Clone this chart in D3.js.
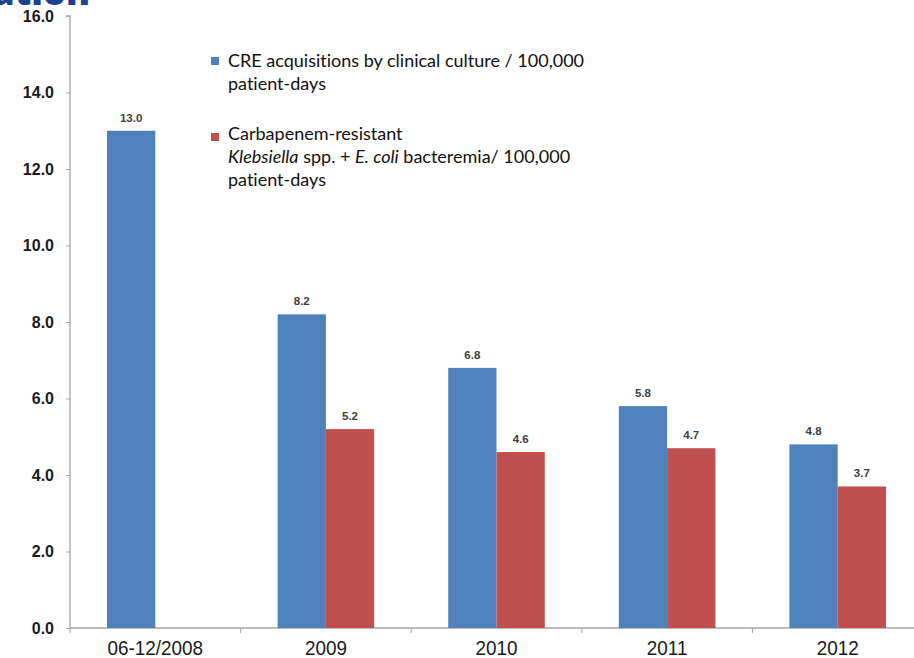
<!DOCTYPE html>
<html>
<head>
<meta charset="utf-8">
<script src="https://cdn.jsdelivr.net/npm/d3@7"></script>
<style>
  html, body { margin: 0; padding: 0; background: #fff; overflow: hidden; }
  svg { display: block; }
  .legend text { font-variant-ligatures: none; }
</style>
</head>
<body>
<svg id="chart" width="914" height="658"></svg>
<script>
// Rates per 100,000 patient-days
const categories = ["06-12/2008", "2009", "2010", "2011", "2012"];
const creAcquisitions = [13.0, 8.2, 6.8, 5.8, 4.8];
const crBacteremia = [null, 5.2, 4.6, 4.7, 3.7];
const yTicks = [0, 2, 4, 6, 8, 10, 12, 14, 16];
const colors = ["#4F81BD", "#C0504D"];

const svg = d3.select("#chart");

const plot = { left: 70, top: 16, bottom: 628, right: 923 };

const x = d3.scaleBand()
  .domain(categories)
  .range([plot.left, plot.right])
  .paddingInner(0)
  .paddingOuter(0);

const barW = x.bandwidth() * 0.283;

const y = d3.scaleLinear().domain([0, 16]).range([plot.bottom, plot.top]);

// slide title, running off the top edge
svg.append("text")
  .attr("x", 90).attr("y", 5)
  .attr("text-anchor", "end")
  .attr("font-family", "'Open Sans', 'DejaVu Sans', sans-serif")
  .attr("font-weight", 800)
  .attr("font-size", 36)
  .attr("fill", "#1f3f8f")
  .text("Evaluation");

// y axis
const yAxis = svg.append("g")
  .attr("transform", `translate(${plot.left},0)`)
  .call(d3.axisLeft(y).tickValues(yTicks).tickSize(4).tickPadding(12).tickFormat(d3.format(".1f")));
yAxis.select(".domain").attr("stroke", "#a6a6a6").attr("stroke-width", 1.3)
  .attr("d", `M-4,${plot.top}H0V${plot.bottom}`);
yAxis.selectAll(".tick line").attr("stroke", "#a6a6a6");
yAxis.selectAll(".tick text")
  .attr("font-family", "'Liberation Sans', Arial, sans-serif")
  .attr("font-weight", "bold")
  .attr("font-size", 16)
  .attr("fill", "#1a1a1a");

// x axis with ticks at category boundaries
const xAxisG = svg.append("g").attr("transform", `translate(0,${plot.bottom})`);
xAxisG.append("line")
  .attr("x1", plot.left).attr("x2", 914)
  .attr("stroke", "#a6a6a6").attr("stroke-width", 1.3);
xAxisG.selectAll("line.bound")
  .data(categories.slice(1))
  .join("line")
  .attr("class", "bound")
  .attr("x1", d => x(d)).attr("x2", d => x(d))
  .attr("y1", 0).attr("y2", 5)
  .attr("stroke", "#a6a6a6");
xAxisG.append("line")
  .attr("x1", plot.left).attr("x2", plot.left)
  .attr("y1", 0).attr("y2", 5)
  .attr("stroke", "#a6a6a6");
xAxisG.selectAll("text.cat")
  .data(categories)
  .join("text")
  .attr("class", "cat")
  .attr("transform", d => `translate(${x(d) + x.bandwidth() / 2},27) scale(0.9,1)`)
  .attr("text-anchor", "middle")
  .attr("font-family", "'Liberation Sans', Arial, sans-serif")
  .attr("font-size", 21)
  .attr("fill", "#1a1a1a")
  .text(d => d);

// bars
const series = [creAcquisitions, crBacteremia];
series.forEach((vals, si) => {
  const data = categories.map((c, i) => ({ c, v: vals[i] })).filter(d => d.v != null);
  const g = svg.append("g");
  g.selectAll("rect")
    .data(data)
    .join("rect")
    .attr("x", d => x(d.c) + x.bandwidth() / 2 + (si === 0 ? -barW : 0))
    .attr("y", d => y(d.v))
    .attr("width", barW)
    .attr("height", d => y(0) - y(d.v))
    .attr("fill", colors[si]);
  g.selectAll("text")
    .data(data)
    .join("text")
    .attr("x", d => x(d.c) + x.bandwidth() / 2 + (si === 0 ? -barW / 2 : barW / 2))
    .attr("y", d => y(d.v) - 9)
    .attr("text-anchor", "middle")
    .attr("font-family", "'Liberation Sans', Arial, sans-serif")
    .attr("font-weight", "bold")
    .attr("font-size", 11.5)
    .attr("fill", "#404040")
    .text(d => d3.format(".1f")(d.v));
});

// legend
const legend = svg.append("g")
  .attr("class", "legend")
  .attr("font-family", "Lato, 'Open Sans', sans-serif")
  .attr("font-size", 18)
  .attr("fill", "#111");
legend.append("rect").attr("x", 211).attr("y", 57).attr("width", 8).attr("height", 8).attr("fill", colors[0]);
const t1 = legend.append("text").attr("x", 228).attr("y", 67);
t1.append("tspan").attr("x", 228).attr("dy", 0).text("CRE acquisitions by clinical culture / 100,000");
t1.append("tspan").attr("x", 228).attr("dy", 22.5).text("patient-days");

legend.append("rect").attr("x", 211).attr("y", 133).attr("width", 8).attr("height", 8).attr("fill", colors[1]);
const t2 = legend.append("text").attr("x", 228).attr("y", 140);
t2.append("tspan").attr("x", 228).attr("dy", 0).text("Carbapenem-resistant");
const l2 = t2.append("tspan").attr("x", 228).attr("dy", 23);
l2.append("tspan").attr("font-style", "italic").text("Klebsiella");
l2.append("tspan").text(" spp. + ");
l2.append("tspan").attr("font-style", "italic").text("E. coli");
l2.append("tspan").text(" bacteremia/ 100,000");
t2.append("tspan").attr("x", 228).attr("dy", 23).text("patient-days");
</script>
</body>
</html>
